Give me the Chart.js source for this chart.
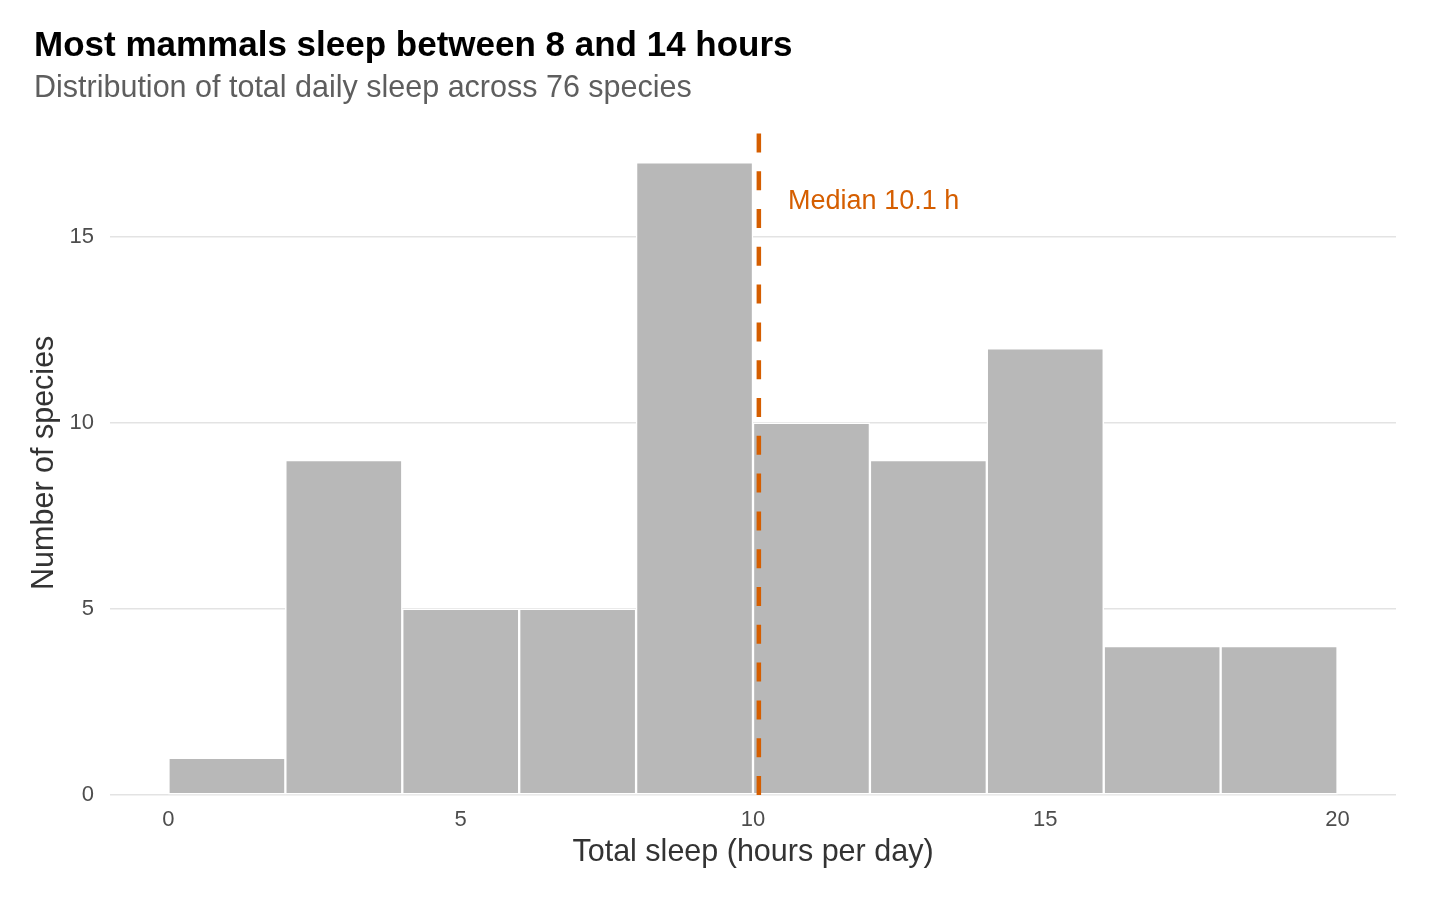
<!DOCTYPE html>
<html>
<head>
<meta charset="utf-8">
<title>Mammal sleep histogram</title>
<script src="https://cdn.jsdelivr.net/npm/chart.js@4/dist/chart.umd.min.js"></script>
<style>
  body { margin: 0; background: #fff; }
  #wrap { width: 1440px; height: 900px; }
</style>
</head>
<body>
<div id="wrap"><canvas id="sleepChart" width="1440" height="900"></canvas></div>
<script>
// histogram bins (hours of total sleep) and species counts
const binStart = [0, 2, 4, 6, 8, 10, 12, 14, 16, 18];
const binEnd = [2, 4, 6, 8, 10, 12, 14, 16, 18, 20];
const speciesCount = [1, 9, 5, 5, 17, 10, 9, 12, 4, 4];

const xTicks = [0, 5, 10, 15, 20];
const yTicks = [0, 5, 10, 15];
const xRange = [-1, 21];
const yRange = [0, 17.85];

const medianSleep = 10.1;
const medianLabel = 'Median 10.1 h';
const medianLabelPos = { x: 10.6, y: 16 };

const ACCENT = '#D55E00';
const FONT = "Arial, 'Liberation Sans', sans-serif";

const barPoints = binStart.map((s, i) => ({ x: (s + binEnd[i]) / 2, y: speciesCount[i] }));

// text next to the dashed median line
const medianText = {
  id: 'medianText',
  afterDatasetsDraw(chart) {
    const { ctx, scales } = chart;
    ctx.save();
    ctx.font = `27px ${FONT}`;
    ctx.fillStyle = ACCENT;
    ctx.textAlign = 'left';
    ctx.textBaseline = 'middle';
    ctx.fillText(medianLabel, scales.x.getPixelForValue(medianLabelPos.x), scales.y.getPixelForValue(medianLabelPos.y) + 2);
    ctx.restore();
  }
};

new Chart(document.getElementById('sleepChart'), {
  data: {
    datasets: [
      {
        type: 'bar',
        data: barPoints,
        backgroundColor: '#B8B8B8',
        borderColor: '#ffffff',
        borderWidth: 1.5,
        borderSkipped: false,
        barPercentage: 1,
        categoryPercentage: 1,
        order: 2
      },
      {
        // drawn bottom-up so the dash pattern starts at the baseline
        type: 'line',
        data: [{ x: medianSleep, y: 0 }, { x: medianSleep, y: yRange[1] }],
        borderColor: ACCENT,
        borderWidth: 4.5,
        borderDash: [19, 18.8],
        pointRadius: 0,
        fill: false,
        order: 1
      }
    ]
  },
  options: {
    responsive: false,
    devicePixelRatio: 1,
    animation: false,
    layout: { padding: { left: 34, right: 44, top: 0, bottom: 0 } },
    plugins: {
      legend: { display: false },
      tooltip: { enabled: false },
      title: {
        display: true,
        align: 'start',
        text: 'Most mammals sleep between 8 and 14 hours',
        color: '#000',
        font: { family: FONT, size: 35, weight: 'bold' },
        padding: { top: 25, bottom: 0 }
      },
      subtitle: {
        display: true,
        align: 'start',
        text: 'Distribution of total daily sleep across 76 species',
        color: '#5e5e5e',
        font: { family: FONT, size: 30.5 },
        padding: { top: 3, bottom: 24 }
      }
    },
    scales: {
      x: {
        type: 'linear',
        min: xRange[0],
        max: xRange[1],
        offset: false,
        afterBuildTicks: s => { s.ticks = xTicks.map(v => ({ value: v })); },
        afterFit: s => { s.height = 105; },
        grid: { display: false, offset: false },
        border: { display: false },
        ticks: { color: '#4d4d4d', font: { family: FONT, size: 22 }, padding: 4 },
        title: {
          display: true,
          text: 'Total sleep (hours per day)',
          color: '#333',
          font: { family: FONT, size: 30.5 },
          padding: { top: 0, bottom: 29 }
        }
      },
      y: {
        type: 'linear',
        min: yRange[0],
        max: yRange[1],
        afterBuildTicks: s => { s.ticks = yTicks.map(v => ({ value: v })); },
        afterFit: s => { s.width = 76; },
        grid: { color: '#E3E3E3', lineWidth: 1.5, drawTicks: false },
        border: { display: false },
        ticks: { color: '#4d4d4d', font: { family: FONT, size: 22 }, padding: 16 },
        title: {
          display: true,
          text: 'Number of species',
          color: '#333',
          font: { family: FONT, size: 30.5 },
          padding: { top: -8, bottom: 0 }
        }
      }
    }
  },
  plugins: [medianText]
});
</script>
</body>
</html>
